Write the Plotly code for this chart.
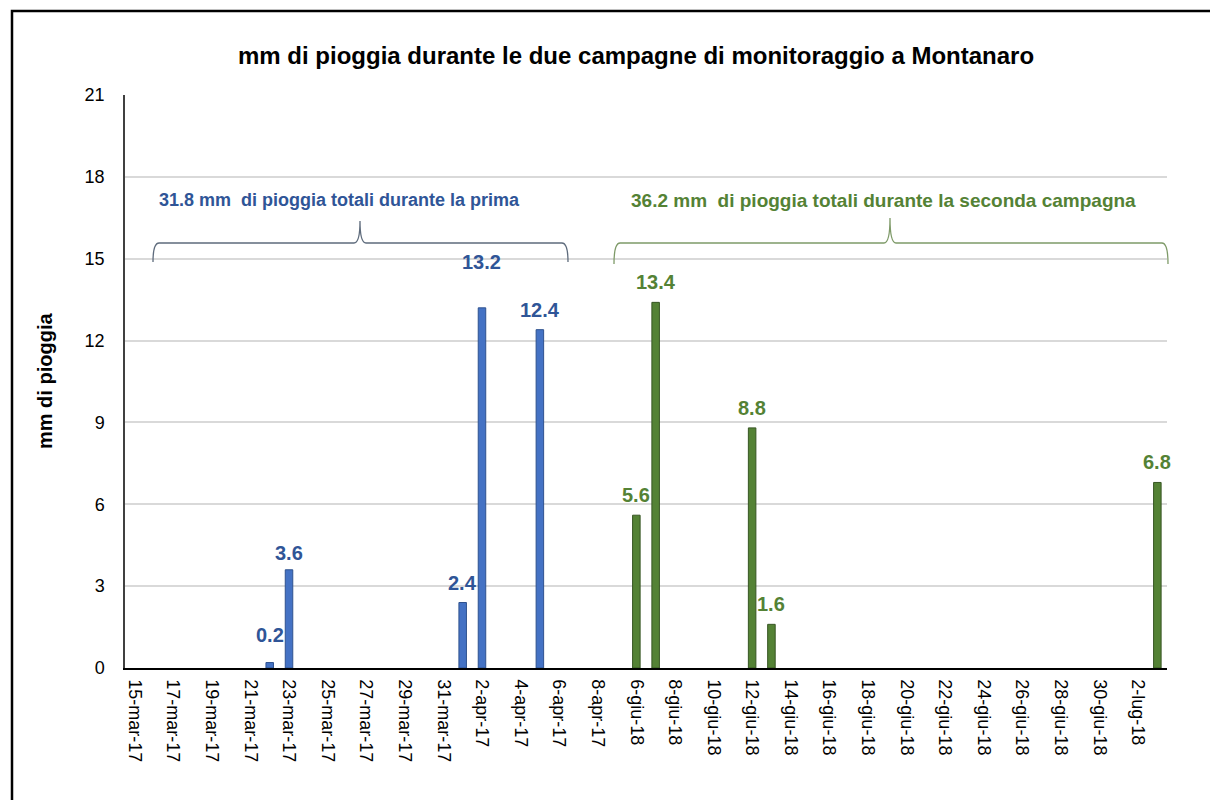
import plotly.graph_objects as go

# ---- data ----
categories = [
    "15-mar-17", "16-mar-17", "17-mar-17", "18-mar-17", "19-mar-17", "20-mar-17",
    "21-mar-17", "22-mar-17", "23-mar-17", "24-mar-17", "25-mar-17", "26-mar-17",
    "27-mar-17", "28-mar-17", "29-mar-17", "30-mar-17", "31-mar-17", "1-apr-17",
    "2-apr-17", "3-apr-17", "4-apr-17", "5-apr-17", "6-apr-17", "7-apr-17",
    "8-apr-17", "9-apr-17",
    "6-giu-18", "7-giu-18", "8-giu-18", "9-giu-18", "10-giu-18", "11-giu-18",
    "12-giu-18", "13-giu-18", "14-giu-18", "15-giu-18", "16-giu-18", "17-giu-18",
    "18-giu-18", "19-giu-18", "20-giu-18", "21-giu-18", "22-giu-18", "23-giu-18",
    "24-giu-18", "25-giu-18", "26-giu-18", "27-giu-18", "28-giu-18", "29-giu-18",
    "30-giu-18", "1-lug-18", "2-lug-18", "3-lug-18",
]
tick_labels = categories[::2]

first_dates = ["22-mar-17", "23-mar-17", "1-apr-17", "2-apr-17", "5-apr-17"]
first_mm = [0.2, 3.6, 2.4, 13.2, 12.4]
second_dates = ["6-giu-18", "7-giu-18", "12-giu-18", "13-giu-18", "3-lug-18"]
second_mm = [5.6, 13.4, 8.8, 1.6, 6.8]

title_text = "mm di pioggia durante le due campagne di monitoraggio a Montanaro"
first_note = "31.8 mm  di pioggia totali durante la prima"
second_note = "36.2 mm  di pioggia totali durante la seconda campagna"

# ---- style ----
BLUE = "#4472C4"
BLUE_DARK = "#2F5597"
GREEN = "#548235"
FONT = "Liberation Sans, Arial, sans-serif"

# extra lift (px) for a few hand-placed data labels
label_lift = {"22-mar-17": 8, "23-mar-17": -3, "2-apr-17": 26}

OFF = 8  # page body margin
# plot area in page pixels
PL, PR, PT, PB = 125, 1167, 95, 668
W, H = 1218 - OFF, 800 - OFF
PW, PH = PR - PL, PB - PT
L, T = PL - OFF, PT - OFF
R, B = W - L - PW, H - T - PH


def px(x):
    return (x - PL) / PW


def py(y):
    return (PB - y) / PH


fig = go.Figure()
fig.add_trace(go.Bar(x=first_dates, y=first_mm, width=0.39,
                     marker=dict(color=BLUE, line=dict(color="#2F528F", width=1)),
                     hoverinfo="x+y"))
fig.add_trace(go.Bar(x=second_dates, y=second_mm, width=0.39,
                     marker=dict(color=GREEN, line=dict(color="#375623", width=1)),
                     hoverinfo="x+y"))

annotations = []
for dates, vals, col in ((first_dates, first_mm, BLUE_DARK),
                         (second_dates, second_mm, GREEN)):
    for d, v in zip(dates, vals):
        annotations.append(dict(x=d, y=v, xref="x", yref="y", text=f"<b>{v}</b>",
                                showarrow=False, yanchor="bottom",
                                yshift=7 + label_lift.get(d, 0),
                                font=dict(family=FONT, size=20, color=col)))

annotations.append(dict(x=px(636), y=py(55), xref="paper", yref="paper",
                        text=f"<b>{title_text}</b>", showarrow=False,
                        xanchor="center", yanchor="middle",
                        font=dict(family=FONT, size=24, color="#000000")))
annotations.append(dict(x=px(45), y=py(381), xref="paper", yref="paper",
                        text="<b>mm di pioggia</b>", showarrow=False, textangle=-90,
                        xanchor="center", yanchor="middle",
                        font=dict(family=FONT, size=20, color="#000000")))
annotations.append(dict(x=px(339), y=py(200), xref="paper", yref="paper",
                        text=f"<b>{first_note}</b>", showarrow=False,
                        xanchor="center", yanchor="middle",
                        font=dict(family=FONT, size=18, color=BLUE_DARK)))
annotations.append(dict(x=px(883), y=py(200), xref="paper", yref="paper",
                        text=f"<b>{second_note}</b>", showarrow=False,
                        xanchor="center", yanchor="middle",
                        font=dict(family=FONT, size=19, color=GREEN)))


def brace(x0, xm, x1, yh, yp, yb):
    r = 6
    return (f"M {px(x0)},{py(yb)} Q {px(x0)},{py(yh)} {px(x0 + r)},{py(yh)} "
            f"L {px(xm - r)},{py(yh)} Q {px(xm)},{py(yh)} {px(xm)},{py(yp)} "
            f"Q {px(xm)},{py(yh)} {px(xm + r)},{py(yh)} "
            f"L {px(x1 - r)},{py(yh)} Q {px(x1)},{py(yh)} {px(x1)},{py(yb)}")


shapes = [
    dict(type="path", xref="paper", yref="paper",
         path=brace(153, 360, 568, 243, 221, 262),
         line=dict(color="#5E6B7C", width=1.3)),
    dict(type="path", xref="paper", yref="paper",
         path=brace(614, 890, 1168, 243, 218, 264),
         line=dict(color="#7E9A68", width=1.3)),
    dict(type="rect", xref="paper", yref="paper",
         x0=px(12), y0=py(11), x1=px(1240), y1=py(830),
         line=dict(color="#000000", width=2.5), layer="above"),
]

fig.update_layout(
    width=W, height=H,
    margin=dict(l=L, r=R, t=T, b=B, pad=0),
    paper_bgcolor="white", plot_bgcolor="white",
    barmode="overlay",
    showlegend=False,
    annotations=annotations,
    shapes=shapes,
    font=dict(family=FONT, color="#000000"),
)
fig.update_xaxes(
    type="category", categoryorder="array", categoryarray=categories,
    tickmode="array", tickvals=tick_labels, ticktext=tick_labels,
    tickangle=90, tickfont=dict(family=FONT, size=18, color="#000000"),
    showgrid=False, showline=True, linecolor="#000000", linewidth=1.5,
    ticks="", ticklabelstandoff=6, range=[-0.5, len(categories) - 0.5],
)
fig.update_yaxes(
    range=[0, 21], tickmode="linear", tick0=0, dtick=3,
    tickfont=dict(family=FONT, size=18, color="#000000"),
    showgrid=True, gridcolor="#D9D9D9", gridwidth=1.5,
    showline=True, linecolor="#404040", linewidth=1.5,
    ticks="", ticklabelstandoff=15, zeroline=False,
)

fig.write_html("out.html")
